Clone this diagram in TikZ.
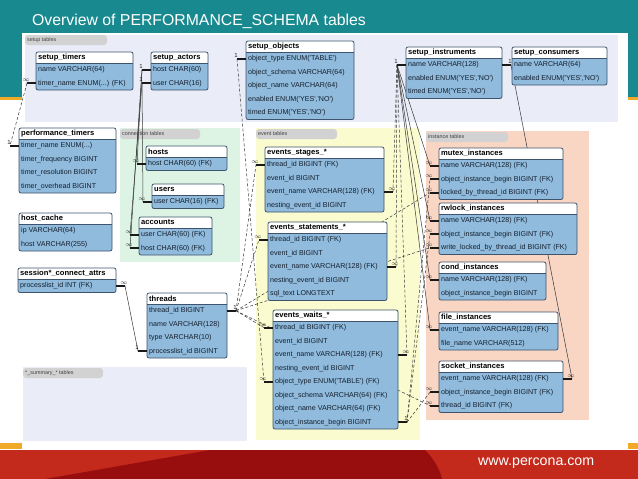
\documentclass[tikz,border=0pt]{standalone}
\usepackage{fontspec}
\setmainfont{Liberation Sans}
\usetikzlibrary{calc}
\pgfdeclarelayer{bg}
\pgfdeclarelayer{lines}
\pgfsetlayers{bg,lines,main}
\definecolor{tealbg}{RGB}{24,138,143}
\definecolor{accent}{RGB}{240,170,40}
\definecolor{redb}{RGB}{196,42,28}
\definecolor{redd}{RGB}{152,14,14}
\definecolor{lav}{RGB}{234,237,248}
\definecolor{mint}{RGB}{221,244,228}
\definecolor{lemon}{RGB}{250,251,206}
\definecolor{peach}{RGB}{249,214,196}
\definecolor{tabgray}{RGB}{210,210,210}
\definecolor{bodyblue}{RGB}{144,187,220}
\definecolor{tblline}{RGB}{62,84,108}
\definecolor{rowtext}{RGB}{20,30,45}
\definecolor{relc}{RGB}{55,55,55}
\newcommand\q{\textquotesingle}
\newcommand\ddd{...}
% id, x, y, width, nrows, title, rows
\newcommand\ertable[7]{%
  \fill[bodyblue, rounded corners=2pt] (#2,#3) rectangle ++(#4,11+13.5*#5);
  \fill[white] (#2,#3) rectangle ++(#4,11);
  \draw[tbl, rounded corners=2pt] (#2,#3) rectangle ++(#4,11+13.5*#5);
  \draw[tbl] (#2,#3+11) -- ++(#4,0);
  \node[hdr, anchor=west] (#1) at (#2,#3+5.5) {#6};
  \coordinate (#1-r) at (#2+#4,#3+5.5);
  \foreach \r [count=\i] in {#7} {\node[rowc, anchor=west] (#1-\i) at (#2,#3+11+13.5*\i-6.75) {\r};}%
}
% table id, row, coordinate name, label
\newcommand\stubL[4]{%
  \path (#1-#2.west) coordinate (#3-a) ++(-9,0) coordinate (#3);
  \draw[stub] (#3-a) -- (#3);
  \node[card, anchor=south] (#3-l) at ([xshift=-1pt,yshift=1.5pt]#3) {#4};
}
\newcommand\stubR[4]{%
  \path (#1-r |- #1-#2.west) coordinate (#3-a) ++(9,0) coordinate (#3);
  \draw[stub] (#3-a) -- (#3);
  \node[card, anchor=south] (#3-l) at ([xshift=-1pt,yshift=1.5pt]#3) {#4};
}
% x1, y, x2, name, text
\newcommand\paneltab[5]{%
  \fill[tabgray, rounded corners=3pt] (#1,#2) rectangle (#3,#2+10);
  \node[tabtext, anchor=west] (#4) at (#1+2,#2+5) {#5};
}
\begin{document}
\begin{tikzpicture}[x=1pt,y=-1pt,
  hdr/.style={inner xsep=2pt, inner ysep=0pt, font=\fontsize{7.6}{8}\selectfont\bfseries, text=black},
  rowc/.style={inner xsep=2pt, inner ysep=0pt, font=\fontsize{7.1}{8}\selectfont, text=rowtext},
  tbl/.style={draw=tblline, line width=0.8pt},
  stub/.style={line width=1.8pt, draw=black!90},
  card/.style={inner sep=0pt, font=\fontsize{6}{6}\selectfont, text=black!85},
  rel/.style={line width=0.5pt, draw=relc},
  reld/.style={rel, dash pattern=on 3pt off 2pt},
  tabtext/.style={inner sep=0pt, font=\fontsize{5.4}{6}\selectfont, text=black!75}]
\useasboundingbox (0,0) rectangle (638,479);
\begin{pgfonlayer}{bg}
\fill[white] (0,0) rectangle (638,479);
\fill[tealbg] (0,0) rectangle (638,97);
\fill[accent] (0,97) rectangle (638,100);
\fill[white] (22,33) rectangle (628,449);
\fill[accent] (0,443) rectangle (22,449);
\fill[accent] (628,443) rectangle (638,449);
\fill[redb] (0,450) rectangle (638,479);
\fill[redd] (45,479) -- (210,450) -- (425,450) .. controls (435,460) and (440,470) .. (442,479) -- cycle;
% panels
\fill[lav] (25,35) rectangle (618,122);
\paneltab{25}{35}{107}{tsetup}{setup tables}
\fill[mint] (120,128) rectangle (240,262);
\paneltab{120}{129}{200}{tconn}{connection tables}
\fill[lemon] (256,128) rectangle (420,440);
\paneltab{256}{129}{337}{tevent}{event tables}
\fill[peach] (426,131) rectangle (589,420);
\paneltab{426}{132}{508}{tinst}{instance tables}
\fill[lav] (23,367) rectangle (247,441);
\paneltab{23}{368}{103}{tsum}{*\_summary\_* tables}
\end{pgfonlayer}
\node[anchor=base west, inner sep=0pt, text=white, font=\fontsize{15.8}{16}\selectfont] (title) at (32,26) {Overview of PERFORMANCE\_SCHEMA tables};
\node[anchor=base west, inner sep=0pt, text=white, font=\fontsize{14.2}{15}\selectfont] (url) at (478,465) {www.percona.com};
% tables
\ertable{stimers}{36}{52}{97}{2}{setup\_timers}{{name VARCHAR(64)},{timer\_name ENUM(\ddd) (FK)}}
\ertable{sactors}{151}{52}{57}{2}{setup\_actors}{{host CHAR(60)},{user CHAR(16)}}
\ertable{sobjects}{246}{41}{108}{5}{setup\_objects}{{object\_type ENUM(\q TABLE\q)},{object\_schema VARCHAR(64)},{object\_name VARCHAR(64)},{enabled ENUM(\q YES\q,\q NO\q)},{timed ENUM(\q YES\q,\q NO\q)}}
\ertable{sinstr}{406}{47}{96}{3}{setup\_instruments}{{name VARCHAR(128)},{enabled ENUM(\q YES\q,\q NO\q)},{timed ENUM(\q YES\q,\q NO\q)}}
\ertable{scons}{512}{47}{95}{2}{setup\_consumers}{{name VARCHAR(64)},{enabled ENUM(\q YES\q,\q NO\q)}}
\ertable{ptimers}{19}{128}{97}{4}{performance\_timers}{{timer\_name ENUM(\ddd)},{timer\_frequency BIGINT},{timer\_resolution BIGINT},{timer\_overhead BIGINT}}
\ertable{hcache}{19}{213}{93}{2}{host\_cache}{{ip VARCHAR(64)},{host VARCHAR(255)}}
\ertable{sattrs}{18}{268}{98}{1}{session*\_connect\_attrs}{{processlist\_id INT (FK)}}
\ertable{hosts}{146}{146}{81}{1}{hosts}{{host CHAR(60) (FK)}}
\ertable{users}{152}{184}{72}{1}{users}{{user CHAR(16) (FK)}}
\ertable{accounts}{139}{217}{73}{2}{accounts}{{user CHAR(60) (FK)},{host CHAR(60) (FK)}}
\ertable{threads}{147}{293}{80}{4}{threads}{{thread\_id BIGINT},{name VARCHAR(128)},{type VARCHAR(10)},{processlist\_id BIGINT}}
\ertable{estages}{265}{147}{119}{4}{events\_stages\_*}{{thread\_id BIGINT (FK)},{event\_id BIGINT},{event\_name VARCHAR(128) (FK)},{nesting\_event\_id BIGINT}}
\ertable{estmts}{268}{222}{119}{5}{events\_statements\_*}{{thread\_id BIGINT (FK)},{event\_id BIGINT},{event\_name VARCHAR(128) (FK)},{nesting\_event\_id BIGINT},{sql\_text LONGTEXT}}
\ertable{ewaits}{273}{310}{125}{8}{events\_waits\_*}{{thread\_id BIGINT (FK)},{event\_id BIGINT},{event\_name VARCHAR(128) (FK)},{nesting\_event\_id BIGINT},{object\_type ENUM(\q TABLE\q) (FK)},{object\_schema VARCHAR(64) (FK)},{object\_name VARCHAR(64) (FK)},{object\_instance\_begin BIGINT}}
\ertable{mutex}{439}{148}{124}{3}{mutex\_instances}{{name VARCHAR(128) (FK)},{object\_instance\_begin BIGINT (FK)},{locked\_by\_thread\_id BIGINT (FK)}}
\ertable{rwlock}{439}{203}{138}{3}{rwlock\_instances}{{name VARCHAR(128) (FK)},{object\_instance\_begin BIGINT (FK)},{write\_locked\_by\_thread\_id BIGINT (FK)}}
\ertable{cond}{439}{262}{107}{2}{cond\_instances}{{name VARCHAR(128) (FK)},{object\_instance\_begin BIGINT}}
\ertable{file}{439}{312}{119}{2}{file\_instances}{{event\_name VARCHAR(128) (FK)},{file\_name VARCHAR(512)}}
\ertable{socket}{439}{361}{124}{3}{socket\_instances}{{event\_name VARCHAR(128) (FK)},{object\_instance\_begin BIGINT (FK)},{thread\_id BIGINT (FK)}}
% stubs
\stubL{stimers}{2}{cst}{$\infty$}
\stubL{ptimers}{1}{cpt}{1}
\stubL{sactors}{1}{cah}{1}
\stubL{sactors}{2}{cau}{1}
\stubL{hosts}{1}{chh}{$\infty$}
\stubL{users}{1}{cuu}{$\infty$}
\stubL{accounts}{1}{cacu}{$\infty$}
\stubL{accounts}{2}{cach}{$\infty$}
\stubL{sobjects}{1}{cso}{1}
\stubL{ewaits}{5}{cwot}{$\infty$}
\stubL{sinstr}{1}{csi}{1}
\stubR{estages}{3}{ces3}{$\infty$}
\stubR{estmts}{3}{cet3}{$\infty$}
\stubR{ewaits}{3}{cew3}{$\infty$}
\stubL{mutex}{1}{cm1}{$\infty$}
\stubL{rwlock}{1}{cr1}{$\infty$}
\stubL{cond}{1}{cc1}{$\infty$}
\stubL{file}{1}{cf1}{$\infty$}
\stubR{sinstr}{1}{csir}{1}
\stubR{socket}{1}{cs1}{$\infty$}
\stubR{threads}{1}{cth}{1}
\stubL{estages}{1}{ces1}{$\infty$}
\stubL{estmts}{1}{cet1}{$\infty$}
\stubL{ewaits}{1}{cew1}{$\infty$}
\stubL{mutex}{3}{cm3}{$\infty$}
\stubL{rwlock}{3}{cr3}{$\infty$}
\stubL{socket}{3}{cs3}{$\infty$}
\stubR{ewaits}{8}{cwob}{1}
\stubL{mutex}{2}{cm2}{$\infty$}
\stubL{rwlock}{2}{cr2}{$\infty$}
\stubL{socket}{2}{cs2}{$\infty$}
\stubR{sattrs}{1}{csa}{$\infty$}
\stubL{threads}{4}{ctp}{1}
% relationship lines
\begin{pgfonlayer}{lines}
\draw[reld] (cst) -- (cpt);
\draw[rel] (cah) -- (chh);
\draw[rel] (cau) -- (cuu);
\draw[rel] (cau) -- (cacu);
\draw[rel] (cah) -- (cach);
\draw[reld] (cso) -- (cwot);
\foreach \t in {ces3,cet3,cew3} \draw[reld] (csi) -- (\t);
\foreach \t in {cm1,cr1,cc1,cf1} \draw[rel] (csi) -- (\t);
\draw[rel] (csir) -- (cs1);
\foreach \t in {ces1,cet1,cew1,cm3,cr3,cs3} \draw[reld] (cth) -- (\t);
\foreach \t in {cm2,cr2,cs2} \draw[reld] (cwob) -- (\t);
\draw[rel] (csa) -- (ctp);
\end{pgfonlayer}
\end{tikzpicture}
\end{document}
